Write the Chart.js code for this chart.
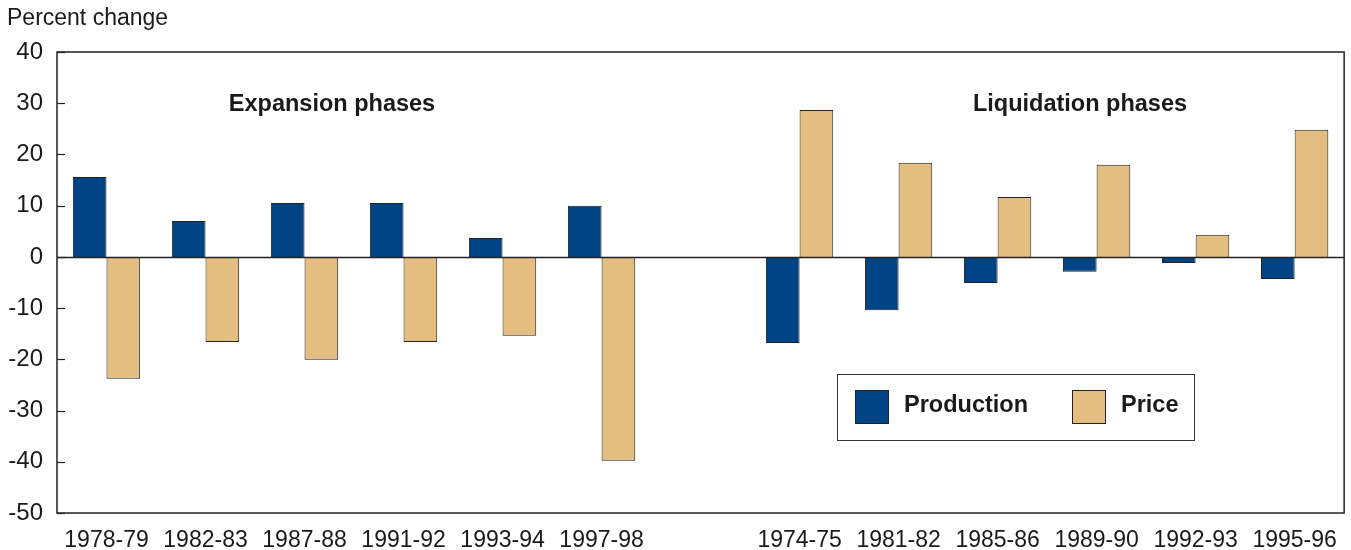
<!DOCTYPE html>
<html>
<head>
<meta charset="utf-8">
<script src="https://cdn.jsdelivr.net/npm/chart.js@4.4.1/dist/chart.umd.min.js"></script>
<style>
  html, body { margin: 0; padding: 0; background: #fff; overflow: hidden; }
  #wrap { width: 1351px; height: 550px; position: relative; }
</style>
</head>
<body>
<div id="wrap"><canvas id="chart"></canvas></div>
<script>
// Categories (empty slot separates the two groups)
const periods = ['1978-79', '1982-83', '1987-88', '1991-92', '1993-94', '1997-98', '',
                 '1974-75', '1981-82', '1985-86', '1989-90', '1992-93', '1995-96'];
// Percent change values
const production = [15.6, 7.0, 10.5, 10.5, 3.7, 10.0, null, -16.8, -10.4, -5.1, -2.9, -1.2, -4.3];
const price = [-23.8, -16.6, -20.1, -16.6, -15.4, -39.8, null, 28.7, 18.4, 11.7, 18.0, 4.3, 24.8];
const yTicks = [40, 30, 20, 10, 0, -10, -20, -30, -40, -50];

const FONT = '"Liberation Sans", Arial, sans-serif';
const TEXT = '#1a1a1a';
const PROD_COLOR = '#004485';
const PRICE_COLOR = '#E3BE80';

// Frame, inward tick marks, zero line, titles and legend box
const decorPlugin = {
    id: 'decor',
    afterDatasetsDraw(chart) {
        const { ctx, chartArea: a, scales } = chart;
        const y = scales.y;
        ctx.save();
        ctx.strokeStyle = '#222';
        ctx.lineWidth = 1.5;
        ctx.strokeRect(a.left, a.top, a.right - a.left, a.bottom - a.top);

        // tick marks pointing into the plot
        ctx.lineWidth = 1.2;
        yTicks.forEach(v => {
            const py = Math.round(y.getPixelForValue(v)) + 0.5;
            ctx.beginPath();
            ctx.moveTo(a.left, py);
            ctx.lineTo(a.left + 8, py);
            ctx.stroke();
        });

        // zero line
        const zy = Math.round(y.getPixelForValue(0)) + 0.5;
        ctx.lineWidth = 1.5;
        ctx.beginPath();
        ctx.moveTo(a.left, zy);
        ctx.lineTo(a.right, zy);
        ctx.stroke();

        // axis title
        ctx.fillStyle = TEXT;
        ctx.font = '23px ' + FONT;
        ctx.textAlign = 'left';
        ctx.textBaseline = 'middle';
        ctx.fillText('Percent change', 7, 19);

        // group titles
        ctx.font = 'bold 23.5px ' + FONT;
        ctx.textAlign = 'center';
        ctx.fillText('Expansion phases', 332, 105);
        ctx.fillText('Liquidation phases', 1080, 105);

        // legend box
        ctx.fillStyle = '#fff';
        ctx.fillRect(837, 374, 357, 66);
        ctx.lineWidth = 1;
        ctx.strokeStyle = '#333';
        ctx.strokeRect(837.5, 374.5, 357, 66);
        const items = [
            { label: chart.data.datasets[0].label, color: PROD_COLOR, x: 855 },
            { label: chart.data.datasets[1].label, color: PRICE_COLOR, x: 1072 }
        ];
        items.forEach(it => {
            ctx.fillStyle = it.color;
            ctx.fillRect(it.x, 390, 33, 33);
            ctx.strokeStyle = '#222';
            ctx.strokeRect(it.x + 0.5, 390.5, 33, 33);
            ctx.fillStyle = TEXT;
            ctx.font = 'bold 23.5px ' + FONT;
            ctx.textAlign = 'left';
            ctx.fillText(it.label, it.x + 49, 406);
        });
        ctx.restore();
    }
};

new Chart(document.getElementById('chart'), {
    type: 'bar',
    data: {
        labels: periods,
        datasets: [
            {
                label: 'Production',
                data: production,
                backgroundColor: PROD_COLOR,
                borderColor: '#222',
                borderWidth: 1
            },
            {
                label: 'Price',
                data: price,
                backgroundColor: PRICE_COLOR,
                borderColor: '#222',
                borderWidth: 1
            }
        ]
    },
    options: {
        responsive: true,
        maintainAspectRatio: false,
        animation: false,
        layout: { padding: { top: 52, right: 4, left: 0, bottom: 0 } },
        datasets: { bar: { categoryPercentage: 0.68, barPercentage: 1.0 } },
        plugins: {
            legend: { display: false },
            tooltip: { enabled: false }
        },
        scales: {
            x: {
                grid: { display: false, drawTicks: false },
                border: { display: false },
                ticks: {
                    color: TEXT,
                    font: { family: FONT, size: 23 },
                    padding: 14,
                    maxRotation: 0,
                    autoSkip: false
                },
                afterFit(scale) { scale.height = 37; }
            },
            y: {
                min: -50,
                max: 40,
                grid: { display: false, drawTicks: false },
                border: { display: false },
                ticks: {
                    stepSize: 10,
                    color: TEXT,
                    font: { family: FONT, size: 24 },
                    padding: 14
                },
                afterFit(scale) { scale.width = 57; }
            }
        }
    },
    plugins: [decorPlugin]
});
</script>
</body>
</html>
